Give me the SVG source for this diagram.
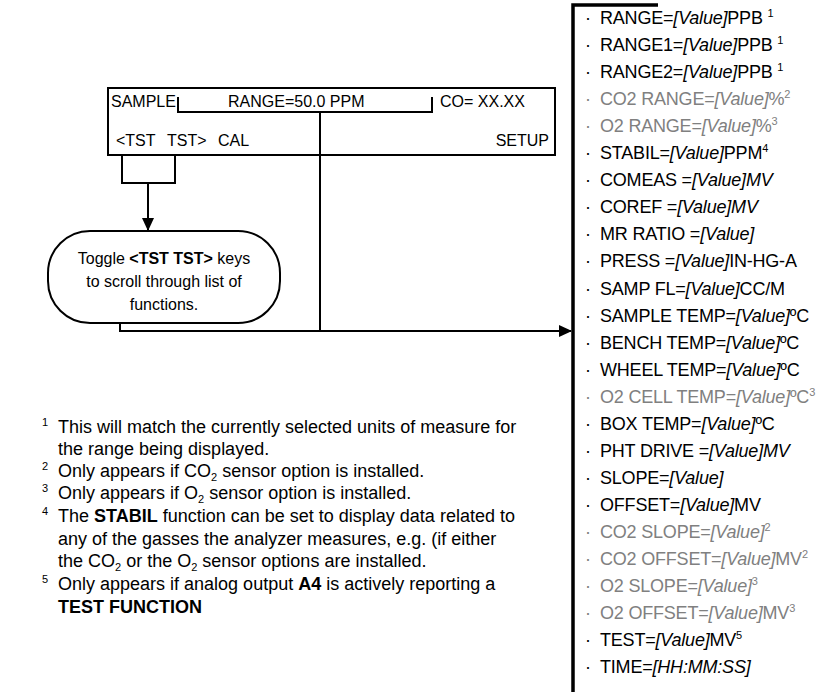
<svg xmlns="http://www.w3.org/2000/svg" width="828" height="692" viewBox="0 0 828 692">
<style>
text{font-family:"Liberation Sans",Arial,sans-serif;fill:#000}
.d{font-size:16px}
.l{font-size:18px;letter-spacing:-0.2px}
.f{font-size:18px}
.g{fill:#808080}
.i{font-style:italic}
.b{font-weight:bold}
.s{font-size:11px}
.ln{fill:none;stroke:#000;stroke-width:2}
.bar{fill:none;stroke:#000;stroke-width:3.5}
</style>
<defs>
<marker id="ah" markerWidth="13" markerHeight="12" refX="12" refY="6" orient="auto" markerUnits="userSpaceOnUse"><path d="M0,0 L13,6 L0,12 z" fill="#000"/></marker>
</defs>
<g id="display">
<rect x="108" y="88" width="447" height="67" class="ln"/>
<text class="d" x="111" y="107">SAMPLE</text>
<text class="d" x="228" y="107">RANGE=50.0 PPM</text>
<text class="d" x="440" y="107">CO= XX.XX</text>
<text class="d" x="116" y="146">&lt;TST</text>
<text class="d" x="167" y="146">TST&gt;</text>
<text class="d" x="218" y="146">CAL</text>
<text class="d" x="549" y="146" text-anchor="end">SETUP</text>
</g>
<g id="toggle">
<rect x="48" y="231" width="232" height="92" rx="42" ry="42" class="ln"/>
<text class="d" x="164" y="264" text-anchor="middle">Toggle <tspan class="b">&lt;TST TST&gt;</tspan> keys</text>
<text class="d" x="164" y="287" text-anchor="middle">to scroll through list of</text>
<text class="d" x="164" y="310" text-anchor="middle">functions.</text>
</g>
<g id="connectors">
<path d="M178,97 V112 H432 V97" class="ln"/>
<path d="M122,155 V183 H175 V155" class="ln"/>
<path d="M148,183 V230" class="ln" marker-end="url(#ah)"/>
<path d="M320,112 V331" class="ln"/>
<path d="M120,323 V331 H571" class="ln" marker-end="url(#ah)"/>
</g>
<g id="list">
<path d="M573,692 V5 H658" class="bar"/>
<g class="l">
<text x="585" y="24">·</text><text x="600" y="24">RANGE=<tspan class="i">[Value]</tspan>PPB <tspan class="s" dy="-7">1</tspan></text>
<text x="585" y="51">·</text><text x="600" y="51">RANGE1=<tspan class="i">[Value]</tspan>PPB <tspan class="s" dy="-7">1</tspan></text>
<text x="585" y="78">·</text><text x="600" y="78">RANGE2=<tspan class="i">[Value]</tspan>PPB <tspan class="s" dy="-7">1</tspan></text>
<text x="585" y="105" class="g">·</text><text x="600" y="105" class="g">CO2 RANGE=<tspan class="i">[Value]</tspan>%<tspan class="s" dy="-7">2</tspan></text>
<text x="585" y="132" class="g">·</text><text x="600" y="132" class="g">O2 RANGE=<tspan class="i">[Value]</tspan>%<tspan class="s" dy="-7">3</tspan></text>
<text x="585" y="159">·</text><text x="600" y="159">STABIL=<tspan class="i">[Value]</tspan>PPM<tspan class="s" dy="-7">4</tspan></text>
<text x="585" y="186">·</text><text x="600" y="186">COMEAS =<tspan class="i">[Value]MV</tspan></text>
<text x="585" y="213">·</text><text x="600" y="213">COREF =<tspan class="i">[Value]MV</tspan></text>
<text x="585" y="240">·</text><text x="600" y="240">MR RATIO =<tspan class="i">[Value]</tspan></text>
<text x="585" y="267">·</text><text x="600" y="267">PRESS =<tspan class="i">[Value]</tspan>IN-HG-A</text>
<text x="585" y="295">·</text><text x="600" y="295">SAMP FL=<tspan class="i">[Value]</tspan>CC/M</text>
<text x="585" y="322">·</text><text x="600" y="322">SAMPLE TEMP=<tspan class="i">[Value]</tspan>ºC</text>
<text x="585" y="349">·</text><text x="600" y="349">BENCH TEMP=<tspan class="i">[Value]</tspan>ºC</text>
<text x="585" y="376">·</text><text x="600" y="376">WHEEL TEMP=<tspan class="i">[Value]</tspan>ºC</text>
<text x="585" y="403" class="g">·</text><text x="600" y="403" class="g">O2 CELL TEMP=<tspan class="i">[Value]</tspan>ºC<tspan class="s" dy="-7">3</tspan></text>
<text x="585" y="430">·</text><text x="600" y="430">BOX TEMP=<tspan class="i">[Value]</tspan>ºC</text>
<text x="585" y="457">·</text><text x="600" y="457">PHT DRIVE =<tspan class="i">[Value]MV</tspan></text>
<text x="585" y="484">·</text><text x="600" y="484">SLOPE=<tspan class="i">[Value]</tspan></text>
<text x="585" y="511">·</text><text x="600" y="511">OFFSET=<tspan class="i">[Value]</tspan>MV</text>
<text x="585" y="538" class="g">·</text><text x="600" y="538" class="g">CO2 SLOPE=<tspan class="i">[Value]</tspan><tspan class="s" dy="-7">2</tspan></text>
<text x="585" y="565" class="g">·</text><text x="600" y="565" class="g">CO2 OFFSET=<tspan class="i">[Value]</tspan>MV<tspan class="s" dy="-7">2</tspan></text>
<text x="585" y="592" class="g">·</text><text x="600" y="592" class="g">O2 SLOPE=<tspan class="i">[Value]</tspan><tspan class="s" dy="-7">3</tspan></text>
<text x="585" y="619" class="g">·</text><text x="600" y="619" class="g">O2 OFFSET=<tspan class="i">[Value]</tspan>MV<tspan class="s" dy="-7">3</tspan></text>
<text x="585" y="646">·</text><text x="600" y="646">TEST=<tspan class="i">[Value]</tspan>MV<tspan class="s" dy="-7">5</tspan></text>
<text x="585" y="673">·</text><text x="600" y="673">TIME=<tspan class="i">[HH:MM:SS]</tspan></text>
</g>
</g>
<g id="footnotes" class="f">
<text x="42" y="426" class="s">1</text>
<text x="58" y="433">This will match the currently selected units of measure for</text>
<text x="58" y="455">the range being displayed.</text>
<text x="42" y="470" class="s">2</text>
<text x="58" y="477">Only appears if CO<tspan class="s" dy="4">2</tspan><tspan dy="-4"> sensor option is installed.</tspan></text>
<text x="42" y="492" class="s">3</text>
<text x="58" y="499">Only appears if O<tspan class="s" dy="4">2</tspan><tspan dy="-4"> sensor option is installed.</tspan></text>
<text x="42" y="515" class="s">4</text>
<text x="58" y="522">The <tspan class="b">STABIL</tspan> function can be set to display data related to</text>
<text x="58" y="545">any of the gasses the analyzer measures, e.g. (if either</text>
<text x="58" y="567">the CO<tspan class="s" dy="4">2</tspan><tspan dy="-4"> or the O</tspan><tspan class="s" dy="4">2</tspan><tspan dy="-4"> sensor options are installed.</tspan></text>
<text x="42" y="583" class="s">5</text>
<text x="58" y="590">Only appears if analog output <tspan class="b">A4</tspan> is actively reporting a</text>
<text x="58" y="613" class="b">TEST FUNCTION</text>
</g>
</svg>
